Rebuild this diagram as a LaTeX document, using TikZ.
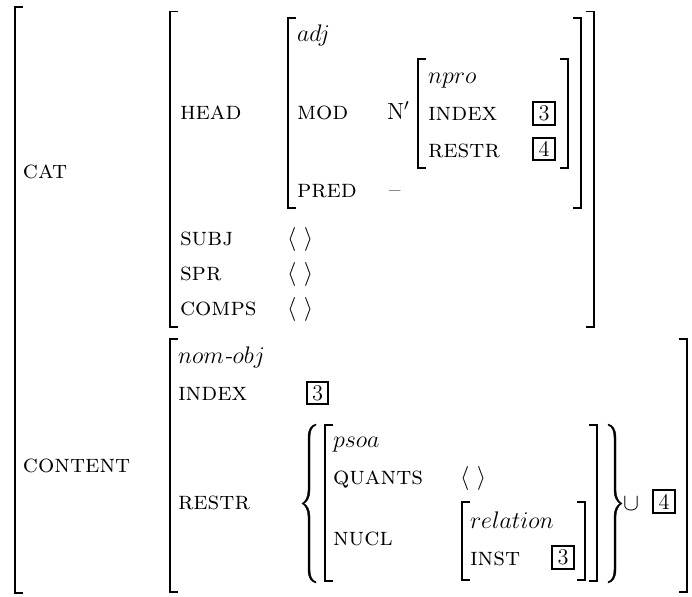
\documentclass[tikz,border=0pt]{standalone}
\newcommand\curlypath{(7,-79.5) .. controls (2,-78.5) and (-1,-74) .. (-1,-66) -- (-1,-13) .. controls (-1,-6) and (-4,-1.5) .. (-7,0) .. controls (-4,1.5) and (-1,6) .. (-1,13) -- (-1,66) .. controls (-1,74) and (2,78.5) .. (7,79.5) -- (7,78.3) .. controls (3,77) and (1,73) .. (1,66) -- (1,13) .. controls (1,6) and (-2,1.5) .. (-5.2,0) .. controls (-2,-1.5) and (1,-6) .. (1,-13) -- (1,-66) .. controls (1,-73) and (3,-77) .. (7,-78.3) -- cycle}
\begin{document}
\begin{tikzpicture}[x=0.5pt,y=-0.5pt,
  every node/.style={inner sep=0pt, outer sep=0pt, font=\fontsize{11.7}{14}\selectfont},
  fname/.style={anchor=base west},
  typ/.style={anchor=base west, font=\fontsize{12.4}{15}\selectfont},
  feat/.style={anchor=base west, font=\fontsize{12.8}{15}\selectfont\scshape},
  tagbox/.style={draw, line width=0.85pt, minimum width=10.8pt, minimum height=11.3pt, anchor=center, font=\fontsize{11.2}{13}\selectfont},
  brk/.style={line width=0.65pt, line join=miter},
  curly/.style={fill=black, draw=black, line width=0.2pt}]
\useasboundingbox (0,0) rectangle (692,596);
% ---------- outer matrix ----------
\draw[brk] (23,7) -- (15,7) -- (15,593) -- (23,593);
\node[feat] (cat) at (23,178) {cat};
\node[feat] (content) at (23,472) {content};
% ---------- CAT matrix ----------
\draw[brk] (178,11.5) -- (170,11.5) -- (170,327) -- (178,327);
\draw[brk] (586,11.5) -- (594,11.5) -- (594,327) -- (586,327);
\node[feat] (head) at (180,119) {head};
\node[feat] (subj) at (180,245) {subj};
\node[feat] (spr) at (180,280) {spr};
\node[feat] (comps) at (180,315) {comps};
\node[fname] (subjv) at (287,245) {$\langle\ \rangle$};
\node[fname] (sprv) at (287,280) {$\langle\ \rangle$};
\node[fname] (compsv) at (287,315) {$\langle\ \rangle$};
% HEAD value
\draw[brk] (296,18) -- (288,18) -- (288,208) -- (296,208);
\draw[brk] (573,18) -- (581,18) -- (581,208) -- (573,208);
\node[typ] (adj) at (297,41) {$adj$};
\node[feat] (mod) at (297,119) {mod};
\node[feat] (pred) at (297,197) {pred};
\node[fname] (predv) at (389,197) {--};
\node[fname] (nbar) at (387,119) {N$'$};
% N' matrix
\draw[brk] (426,59) -- (418,59) -- (418,168) -- (426,168);
\draw[brk] (560,59) -- (568,59) -- (568,168) -- (560,168);
\node[typ] (npro) at (428,83) {$npro$};
\node[feat] (nindex) at (428,120) {index};
\node[feat] (nrestr) at (428,157) {restr};
\node[tagbox] (t3a) at (544,113.5) {3};
\node[tagbox] (t4a) at (544,149) {4};
% ---------- CONTENT matrix ----------
\draw[brk] (178,339) -- (170,339) -- (170,592) -- (178,592);
\draw[brk] (679,339) -- (687,339) -- (687,592) -- (679,592);
\node[typ] (nomobj) at (178,363) {$nom$\textit{-}$obj$};
\node[feat] (cindex) at (178,400) {index};
\node[tagbox] (t3b) at (317.5,393) {3};
\node[feat] (crestr) at (178,509) {restr};
% set braces
\filldraw[curly, shift={(309,503.5)}] \curlypath;
\filldraw[curly, shift={(615,503.5)}, xscale=-1] \curlypath;
% psoa matrix
\draw[brk] (333,425) -- (325,425) -- (325,581) -- (333,581);
\draw[brk] (589,425) -- (597,425) -- (597,581) -- (589,581);
\node[typ] (psoa) at (333,447) {$psoa$};
\node[feat] (quants) at (333,484) {quants};
\node[fname] (quantsv) at (460,484) {$\langle\ \rangle$};
\node[feat] (nucl) at (333,545) {nucl};
% relation matrix
\draw[brk] (470,502) -- (462,502) -- (462,580) -- (470,580);
\draw[brk] (577,502) -- (585,502) -- (585,580) -- (577,580);
\node[typ] (relation) at (470,528) {$relation$};
\node[feat] (inst) at (470,565) {inst};
\node[tagbox] (t3c) at (563,557.5) {3};
% union
\node[fname] (cup) at (623,510) {$\cup$};
\node[tagbox] (t4b) at (664,501.5) {4};
\end{tikzpicture}
\end{document}
